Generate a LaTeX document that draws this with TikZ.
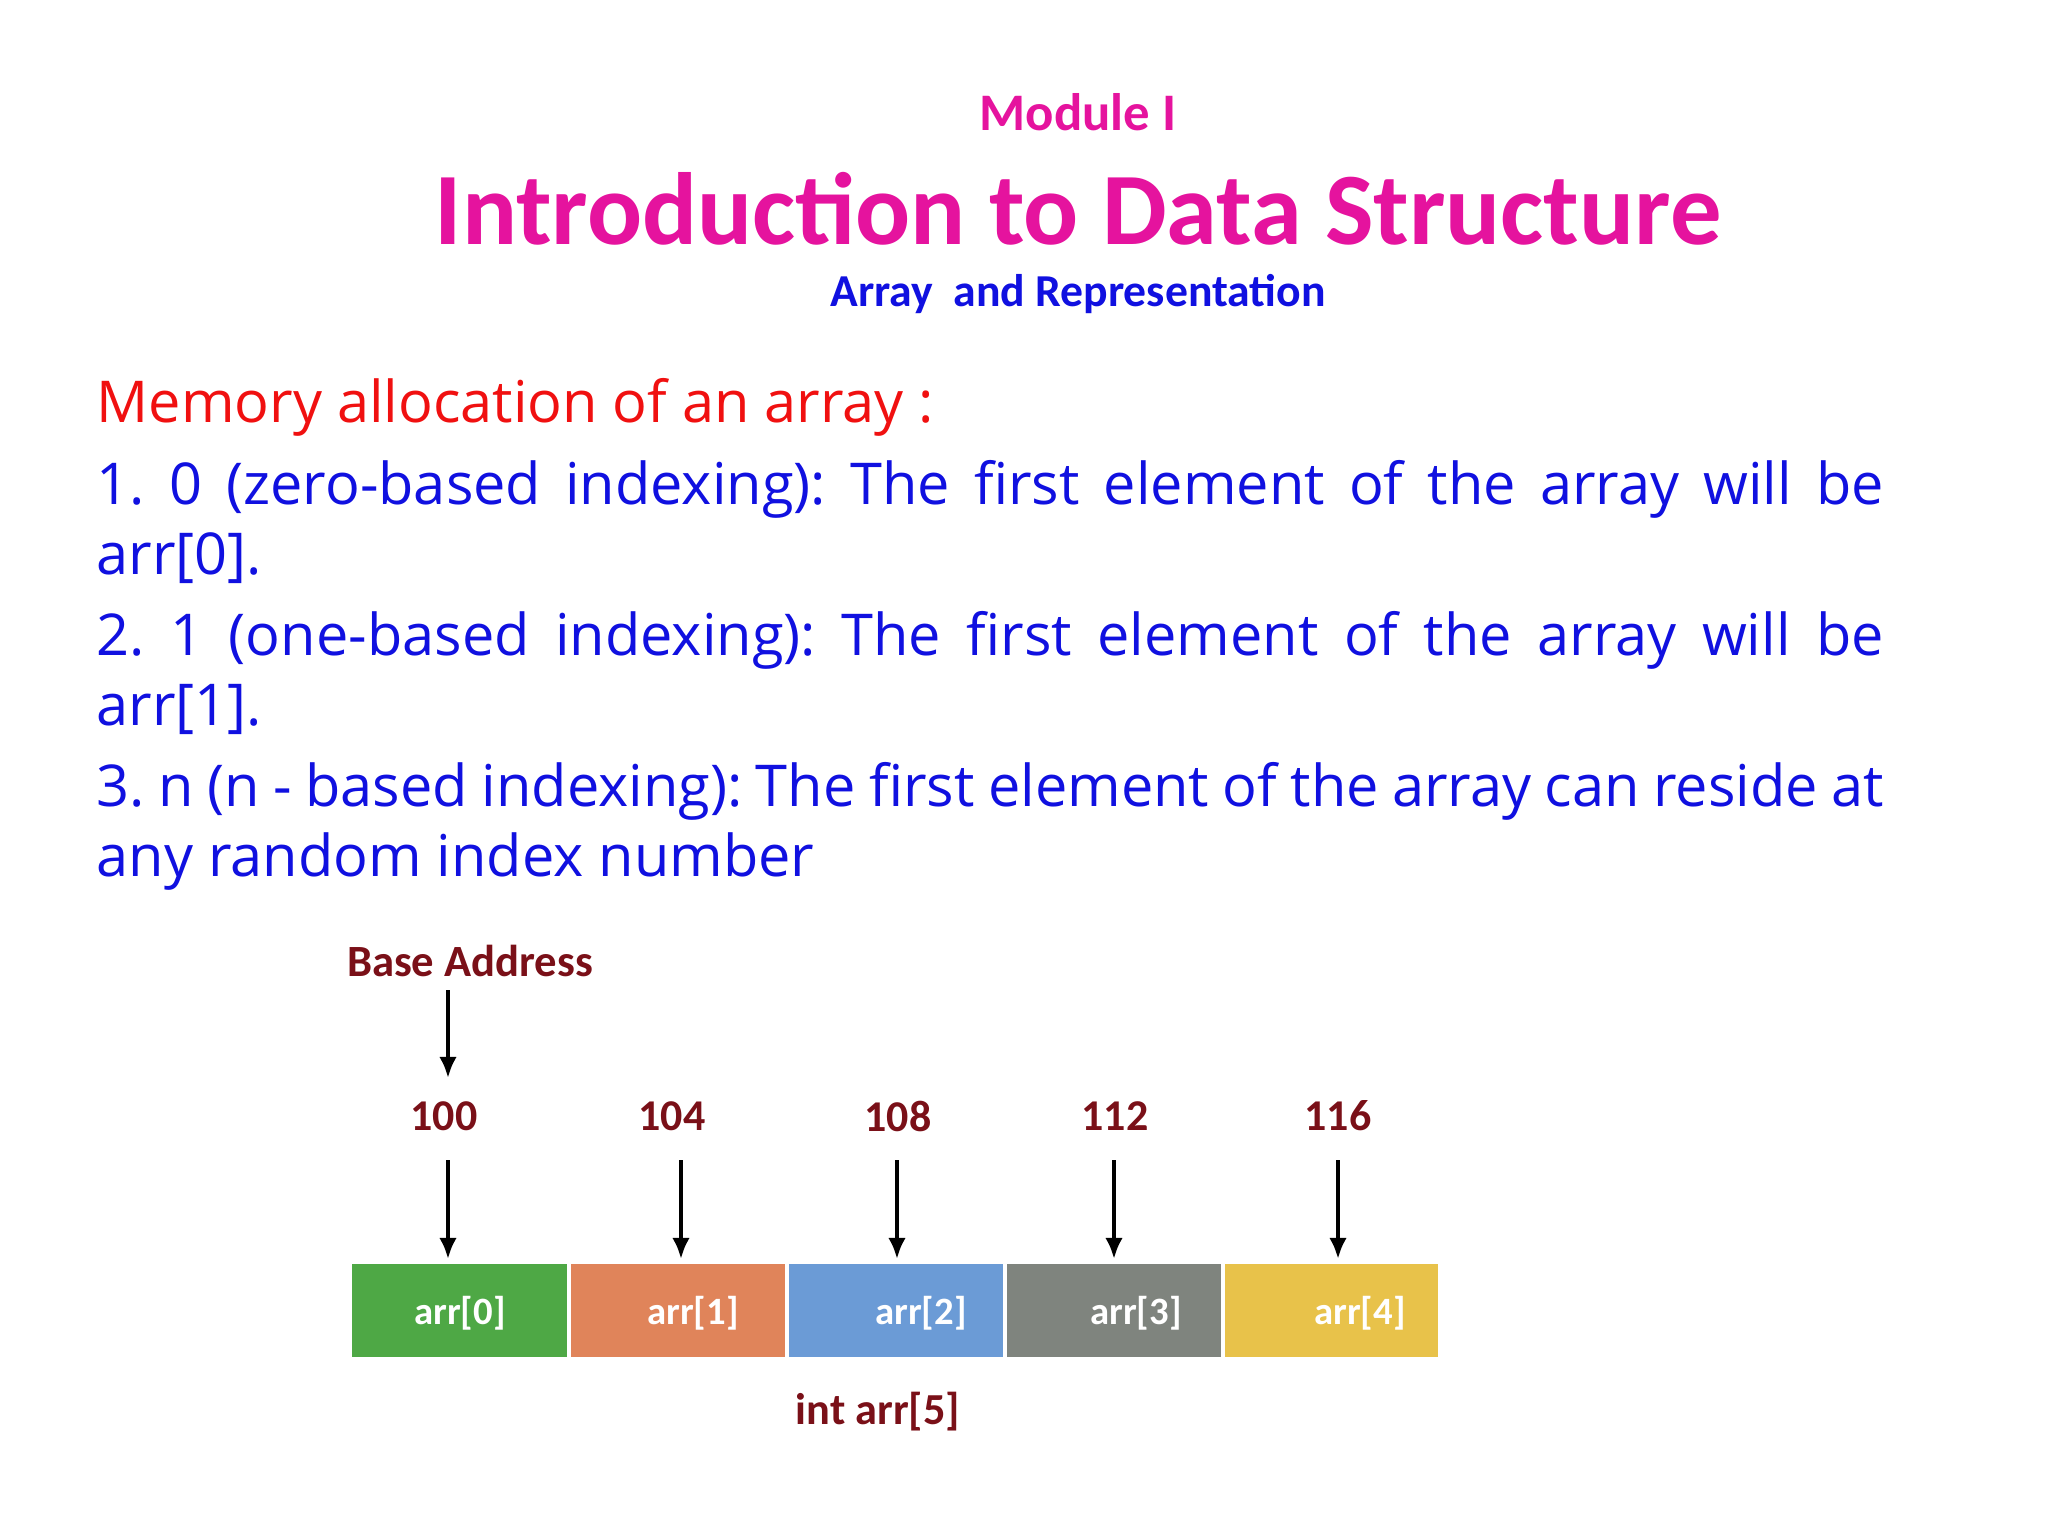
\documentclass[tikz,border=0pt]{standalone}
\usepackage{fontspec}
\setmainfont{Open Sans}
\newfontfamily\titlefont{Carlito}
\usetikzlibrary{arrows.meta}
\definecolor{mag}{HTML}{E5139E}
\definecolor{blu}{HTML}{1010E0}
\definecolor{rd}{HTML}{F01010}
\definecolor{dred}{HTML}{7A1018}
\definecolor{cg}{HTML}{4EA845}
\definecolor{co}{HTML}{E0845A}
\definecolor{cb}{HTML}{6B9BD6}
\definecolor{cgr}{HTML}{7F847E}
\definecolor{cy}{HTML}{E8C24A}
\frenchspacing
\begin{document}
\begin{tikzpicture}[x=0.01cm,y=-0.01cm,
  addr/.style={text=dred,font=\titlefont\bfseries\fontsize{12.5}{14}\selectfont},
  arr/.style={-{Latex[length=6pt,width=5pt]},line width=1.2pt}]
\useasboundingbox (0,0) rectangle (2048,1536);
\node[text=mag,font=\titlefont\bfseries\fontsize{15}{18}\selectfont] (mod) at (1078,112) {Module I};
\node[text=mag,font=\titlefont\bfseries\fontsize{29.2}{34}\selectfont] (title) at (1078,209) {Introduction to Data Structure};
\node[text=blu,font=\titlefont\bfseries\fontsize{13}{15}\selectfont] (sub) at (1078,294) {Array\ \ and Representation};
\node[anchor=north west,inner sep=0,text width=17.86cm,align=justify,font=\fontsize{16.4}{19.9}\selectfont] (body) at (96,378) {%
\textcolor{rd}{Memory allocation of an array :}\par\vspace{3.2pt}
\color{blu}1. 0 (zero-based indexing): The first element of the array will be arr[0].\par\vspace{3.2pt}
2. 1 (one-based indexing): The first element of the array will be arr[1].\par\vspace{3.2pt}
3. n (n - based indexing): The first element of the array can reside at any random index number\par};
\foreach \i/\xa/\xb/\c/\lx/\ax/\ad/\tx in {0/350/569/cg/460/444/100/448,1/569/787/co/693/672/104/681,2/787/1005/cb/921/898/108/897,3/1005/1223/cgr/1136/1115/112/1114,4/1223/1440/cy/1360/1338/116/1338}{
  \fill[\c] (\xa,1262) rectangle (\xb,1359);
  \draw[white,line width=1pt] (\xa,1262) rectangle (\xb,1359);
  \node[text=white,font=\titlefont\bfseries\fontsize{11}{13}\selectfont] (c\i) at (\lx,1313) {arr[\i]};
  \node[addr] (a\i) at (\ax,1116) {\ad};
  \coordinate (t\i) at (\tx,1160);
  \coordinate (b\i) at (\tx,1259);
  \draw[arr] (t\i) -- (b\i);
}
\node[addr,font=\titlefont\bfseries\fontsize{12.7}{14}\selectfont] (base) at (470,961) {Base Address};
\coordinate (bt) at (448,990);
\coordinate (bb) at (448,1078);
\draw[arr] (bt) -- (bb);
\node[addr,font=\titlefont\bfseries\fontsize{12.6}{14}\selectfont] (int) at (878,1412) {int arr[5]};
\end{tikzpicture}
\end{document}
